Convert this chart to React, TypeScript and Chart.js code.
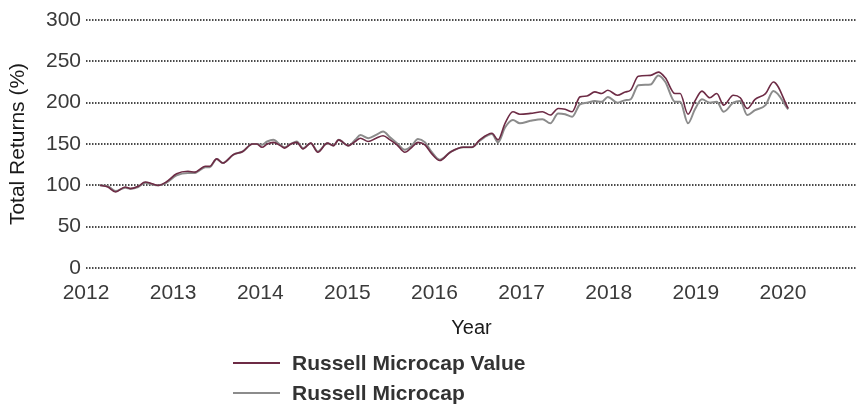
import React, { useEffect, useRef } from "react";
import { Chart, registerables } from "chart.js";

Chart.register(...registerables);

const years = [
  2012.16, 2012.25, 2012.34, 2012.45, 2012.51, 2012.6, 2012.68, 2012.76, 2012.83, 2012.92,
  2013.04, 2013.17, 2013.25, 2013.37, 2013.42, 2013.5, 2013.57, 2013.69, 2013.8, 2013.91,
  2013.96, 2014.02, 2014.08, 2014.15, 2014.23, 2014.28, 2014.35, 2014.42, 2014.49, 2014.58,
  2014.66, 2014.77, 2014.84, 2014.9, 2015.01, 2015.09, 2015.15, 2015.24, 2015.33, 2015.41,
  2015.49, 2015.57, 2015.66, 2015.74, 2015.81, 2015.89, 2015.97, 2016.06, 2016.18, 2016.33,
  2016.43, 2016.52, 2016.66, 2016.73, 2016.81, 2016.9, 2016.98, 2017.1, 2017.24, 2017.33,
  2017.42, 2017.5, 2017.58, 2017.67, 2017.75, 2017.84, 2017.92, 2017.99, 2018.1, 2018.19,
  2018.25, 2018.34, 2018.48, 2018.57, 2018.65, 2018.76, 2018.82, 2018.91, 2018.99, 2019.07,
  2019.16, 2019.24, 2019.32, 2019.43, 2019.51, 2019.59, 2019.68, 2019.8, 2019.89, 2020.06,
];

const microcapValue = [
  100, 98, 92, 98, 96, 99, 104, 102, 100, 104,
  114, 117, 116, 123, 123, 132, 127, 137, 141, 150,
  150, 146, 150, 152, 148, 145, 150, 152, 144, 151,
  140, 151, 148, 155, 148, 153, 157, 153, 157, 160,
  155, 149, 140, 146, 152, 149, 138, 130, 140, 146,
  146, 155, 163, 155, 175, 189, 186, 187, 189, 185,
  193, 192, 189, 207, 208, 213, 211, 215, 209, 213,
  215, 232, 233, 237, 230, 211, 211, 186, 202, 214,
  206, 211, 197, 209, 206, 193, 204, 211, 225, 193,
];

const microcap = [
  100, 99, 93, 97, 96, 98, 103, 101, 100, 103,
  112, 115, 115, 122, 122, 132, 127, 137, 141, 150,
  150, 149, 153, 155, 149, 146, 150, 153, 145, 151,
  141, 151, 148, 155, 148, 155, 161, 157, 161, 165,
  158, 151, 143, 148, 156, 152, 140, 131, 140, 146,
  146, 154, 162, 152, 170, 179, 175, 178, 180, 175,
  187, 186, 183, 198, 200, 202, 201, 207, 200, 203,
  204, 221, 222, 233, 225, 201, 201, 175, 192, 204,
  200, 201, 189, 200, 202, 185, 191, 197, 214, 192,
];

const yearTicks = [2012, 2013, 2014, 2015, 2016, 2017, 2018, 2019, 2020];
const seriesNames = ["Russell Microcap Value", "Russell Microcap"];
const seriesColors = ["#6d2b45", "#8c8c8c"];

const FONT = "'Liberation Sans', Arial, sans-serif";

export default function App() {
  const ref = useRef<HTMLCanvasElement | null>(null);

  useEffect(() => {
    if (!ref.current) return;
    const toPts = (vals: number[]) => years.map((x, i) => ({ x, y: vals[i] }));
    const chart = new Chart(ref.current, {
      type: "line",
      data: {
        datasets: [
          {
            label: seriesNames[0],
            data: toPts(microcapValue),
            borderColor: seriesColors[0],
            borderWidth: 1.6,
            pointRadius: 0,
            cubicInterpolationMode: "monotone",
          },
          {
            label: seriesNames[1],
            data: toPts(microcap),
            borderColor: seriesColors[1],
            borderWidth: 2,
            pointRadius: 0,
            cubicInterpolationMode: "monotone",
          },
        ],
      },
      options: {
        animation: false,
        responsive: false,
        maintainAspectRatio: false,
        layout: { padding: { top: 20, right: 4, left: 0, bottom: 68 } },
        plugins: { legend: { display: false }, tooltip: { enabled: false } },
        scales: {
          x: {
            type: "linear",
            min: 2012,
            max: 2020.85,
            afterBuildTicks: (axis: any) => {
              axis.ticks = yearTicks.map((v) => ({ value: v }));
            },
            afterFit: (axis: any) => {
              axis.height = 72;
            },
            grid: { display: false, drawTicks: false },
            border: { display: false },
            ticks: {
              padding: 13,
              color: "#3a3a3a",
              font: { family: FONT, size: 21 },
              maxRotation: 0,
              autoSkip: false,
              callback: (v: any) => String(v),
            },
            title: {
              display: true,
              text: "Year",
              color: "#1a1a1a",
              font: { family: FONT, size: 20 },
              padding: { top: 0, bottom: 0 },
            },
          },
          y: {
            min: 0,
            max: 300,
            afterFit: (axis: any) => {
              axis.width = 86;
            },
            ticks: {
              stepSize: 50,
              padding: 5,
              color: "#3a3a3a",
              font: { family: FONT, size: 21 },
            },
            grid: { color: "#4a4a4a", lineWidth: 2, drawTicks: false },
            border: { display: false, dash: [1.5, 1.5] },
            title: {
              display: true,
              text: "Total Returns (%)",
              color: "#1a1a1a",
              font: { family: FONT, size: 21 },
              padding: { top: 6, bottom: 0 },
            },
          },
        },
      },
    } as any);
    return () => chart.destroy();
  }, []);

  return (
    <div style={{ position: "fixed", left: 0, top: 0, width: 861, height: 408, background: "#fff" }}>
      <canvas ref={ref} width={861} height={408} style={{ position: "absolute", left: 0, top: 0 }} />
      <div
        style={{
          position: "absolute",
          left: 233,
          top: 348,
          fontFamily: FONT,
          fontWeight: "bold",
          fontSize: 21,
          color: "#333333",
          lineHeight: "30px",
        }}
      >
        {seriesNames.map((name, i) => (
          <div key={name} style={{ display: "flex", alignItems: "center", height: 30 }}>
            <span
              style={{
                display: "inline-block",
                width: 47,
                height: 2,
                background: seriesColors[i],
                marginRight: 12,
              }}
            />
            <span>{name}</span>
          </div>
        ))}
      </div>
    </div>
  );
}
